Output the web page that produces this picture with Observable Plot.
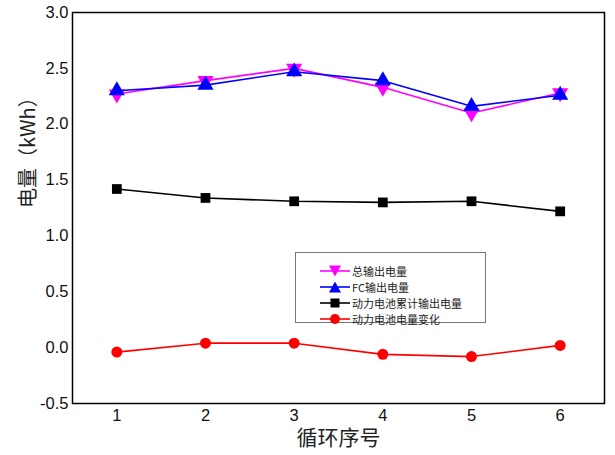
<!DOCTYPE html>
<html><head><meta charset="utf-8">
<script src="https://cdn.jsdelivr.net/npm/d3@7"></script>
<script src="https://cdn.jsdelivr.net/npm/@observablehq/plot@0.6"></script>
<style>
body{margin:0;background:#fff;}
#wrap{position:relative;width:615px;height:455px;font-family:"Liberation Sans",Arial,"Noto Sans CJK SC",sans-serif;}
#legend{position:absolute;left:295px;top:252px;width:191px;height:71px;border:1px solid #777;box-sizing:border-box;background:#fff;font-family:"Noto Sans CJK SC",sans-serif;font-size:11px;}
.row{position:absolute;left:24px;height:16px;display:flex;align-items:center;}
.row span{margin-left:2px;line-height:16px;color:#222;}
</style></head>
<body><div id="wrap"><div id="chart"></div><div id="legend"></div></div>
<script>
const cycles = [1, 2, 3, 4, 5, 6];
const totalOut = [2.27, 2.39, 2.50, 2.33, 2.10, 2.28];
const fcOut = [2.30, 2.35, 2.47, 2.39, 2.16, 2.26];
const batCum = [1.42, 1.34, 1.31, 1.30, 1.31, 1.22];
const batChange = [-0.04, 0.04, 0.04, -0.06, -0.08, 0.02];
const seriesNames = ["总输出电量", "FC输出电量", "动力电池累计输出电量", "动力电池电量变化"];
const yTicks = [-0.5, 0.0, 0.5, 1.0, 1.5, 2.0, 2.5, 3.0];

const series = [
  {name: seriesNames[0], vals: totalOut, color: "#ff00ff", symbol: "triangle", rotate: 180, r: 6},
  {name: seriesNames[1], vals: fcOut, color: "#0000ff", symbol: "triangle", rotate: 0, r: 6},
  {name: seriesNames[2], vals: batCum, color: "#000000", symbol: "square", rotate: 0, r: 5.5},
  {name: seriesNames[3], vals: batChange, color: "#ff0000", symbol: "circle", rotate: 0, r: 5.5}
];

const marks = [];
for (const s of series) {
  const data = cycles.map((c, i) => ({x: c, y: s.vals[i]}));
  marks.push(Plot.line(data, {x: "x", y: "y", stroke: s.color, strokeWidth: 1.6}));
  marks.push(Plot.dot(data, {x: "x", y: "y", fill: s.color, stroke: "none", symbol: s.symbol, r: s.r, rotate: s.rotate}));
}
marks.push(Plot.frame({stroke: "#000", strokeWidth: 1.5}));
const fmt = d => d.toFixed(1);

const chart = Plot.plot({
  width: 615, height: 455,
  marginLeft: 72, marginRight: 11, marginTop: 12, marginBottom: 52,
  style: {fontFamily: "'Liberation Sans', Arial, sans-serif", fontSize: "16px", color: "#000", background: "#fff"},
  x: {domain: [0.5, 6.5], ticks: cycles, tickSize: 0, tickPadding: 6, tickFormat: d => String(d), label: null},
  y: {domain: [-0.5, 3.0], ticks: yTicks, tickSize: 0, tickPadding: 4, tickFormat: fmt, label: null},
  marks: [
    ...marks,
    Plot.axisX({ticks: cycles, tickSize: 0, tickPadding: 6, tickFormat: d => String(d), label: null, fontSize: 16.5, fill: "#111"}),
    Plot.axisY({ticks: yTicks, tickSize: 0, tickPadding: 4, tickFormat: fmt, label: null, fontSize: 16.5, fill: "#111"}),
    Plot.text(["循环序号"], {frameAnchor: "bottom", dy: 41, fontSize: 21, fontFamily: "'Noto Sans CJK SC', sans-serif", fill: "#222"}),
    Plot.text(["电量（kWh）"], {frameAnchor: "left", dx: -44, rotate: -90, fontSize: 20, fontFamily: "'Noto Sans CJK SC', sans-serif", fill: "#222"})
  ]
});
document.getElementById("chart").appendChild(chart);

// legend
const legend = document.getElementById("legend");
const rowTops = [10, 26, 42, 58];
series.forEach((s, i) => {
  const row = document.createElement("div");
  row.className = "row";
  row.style.top = rowTops[i] + "px";
  let sym;
  if (s.symbol === "circle") sym = `<circle cx="15" cy="8" r="5" fill="${s.color}"/>`;
  else if (s.symbol === "square") sym = `<rect x="10.5" y="3.5" width="9" height="9" fill="${s.color}"/>`;
  else if (s.rotate === 180) sym = `<path d="M9,2.5 L21,2.5 L15,13.5 Z" fill="${s.color}"/>`;
  else sym = `<path d="M9,13.5 L21,13.5 L15,2.5 Z" fill="${s.color}"/>`;
  row.innerHTML = `<svg width="30" height="16"><line x1="0" x2="30" y1="8" y2="8" stroke="${s.color}" stroke-width="1.6"/>${sym}</svg><span>${s.name}</span>`;
  legend.appendChild(row);
});
</script></body></html>
